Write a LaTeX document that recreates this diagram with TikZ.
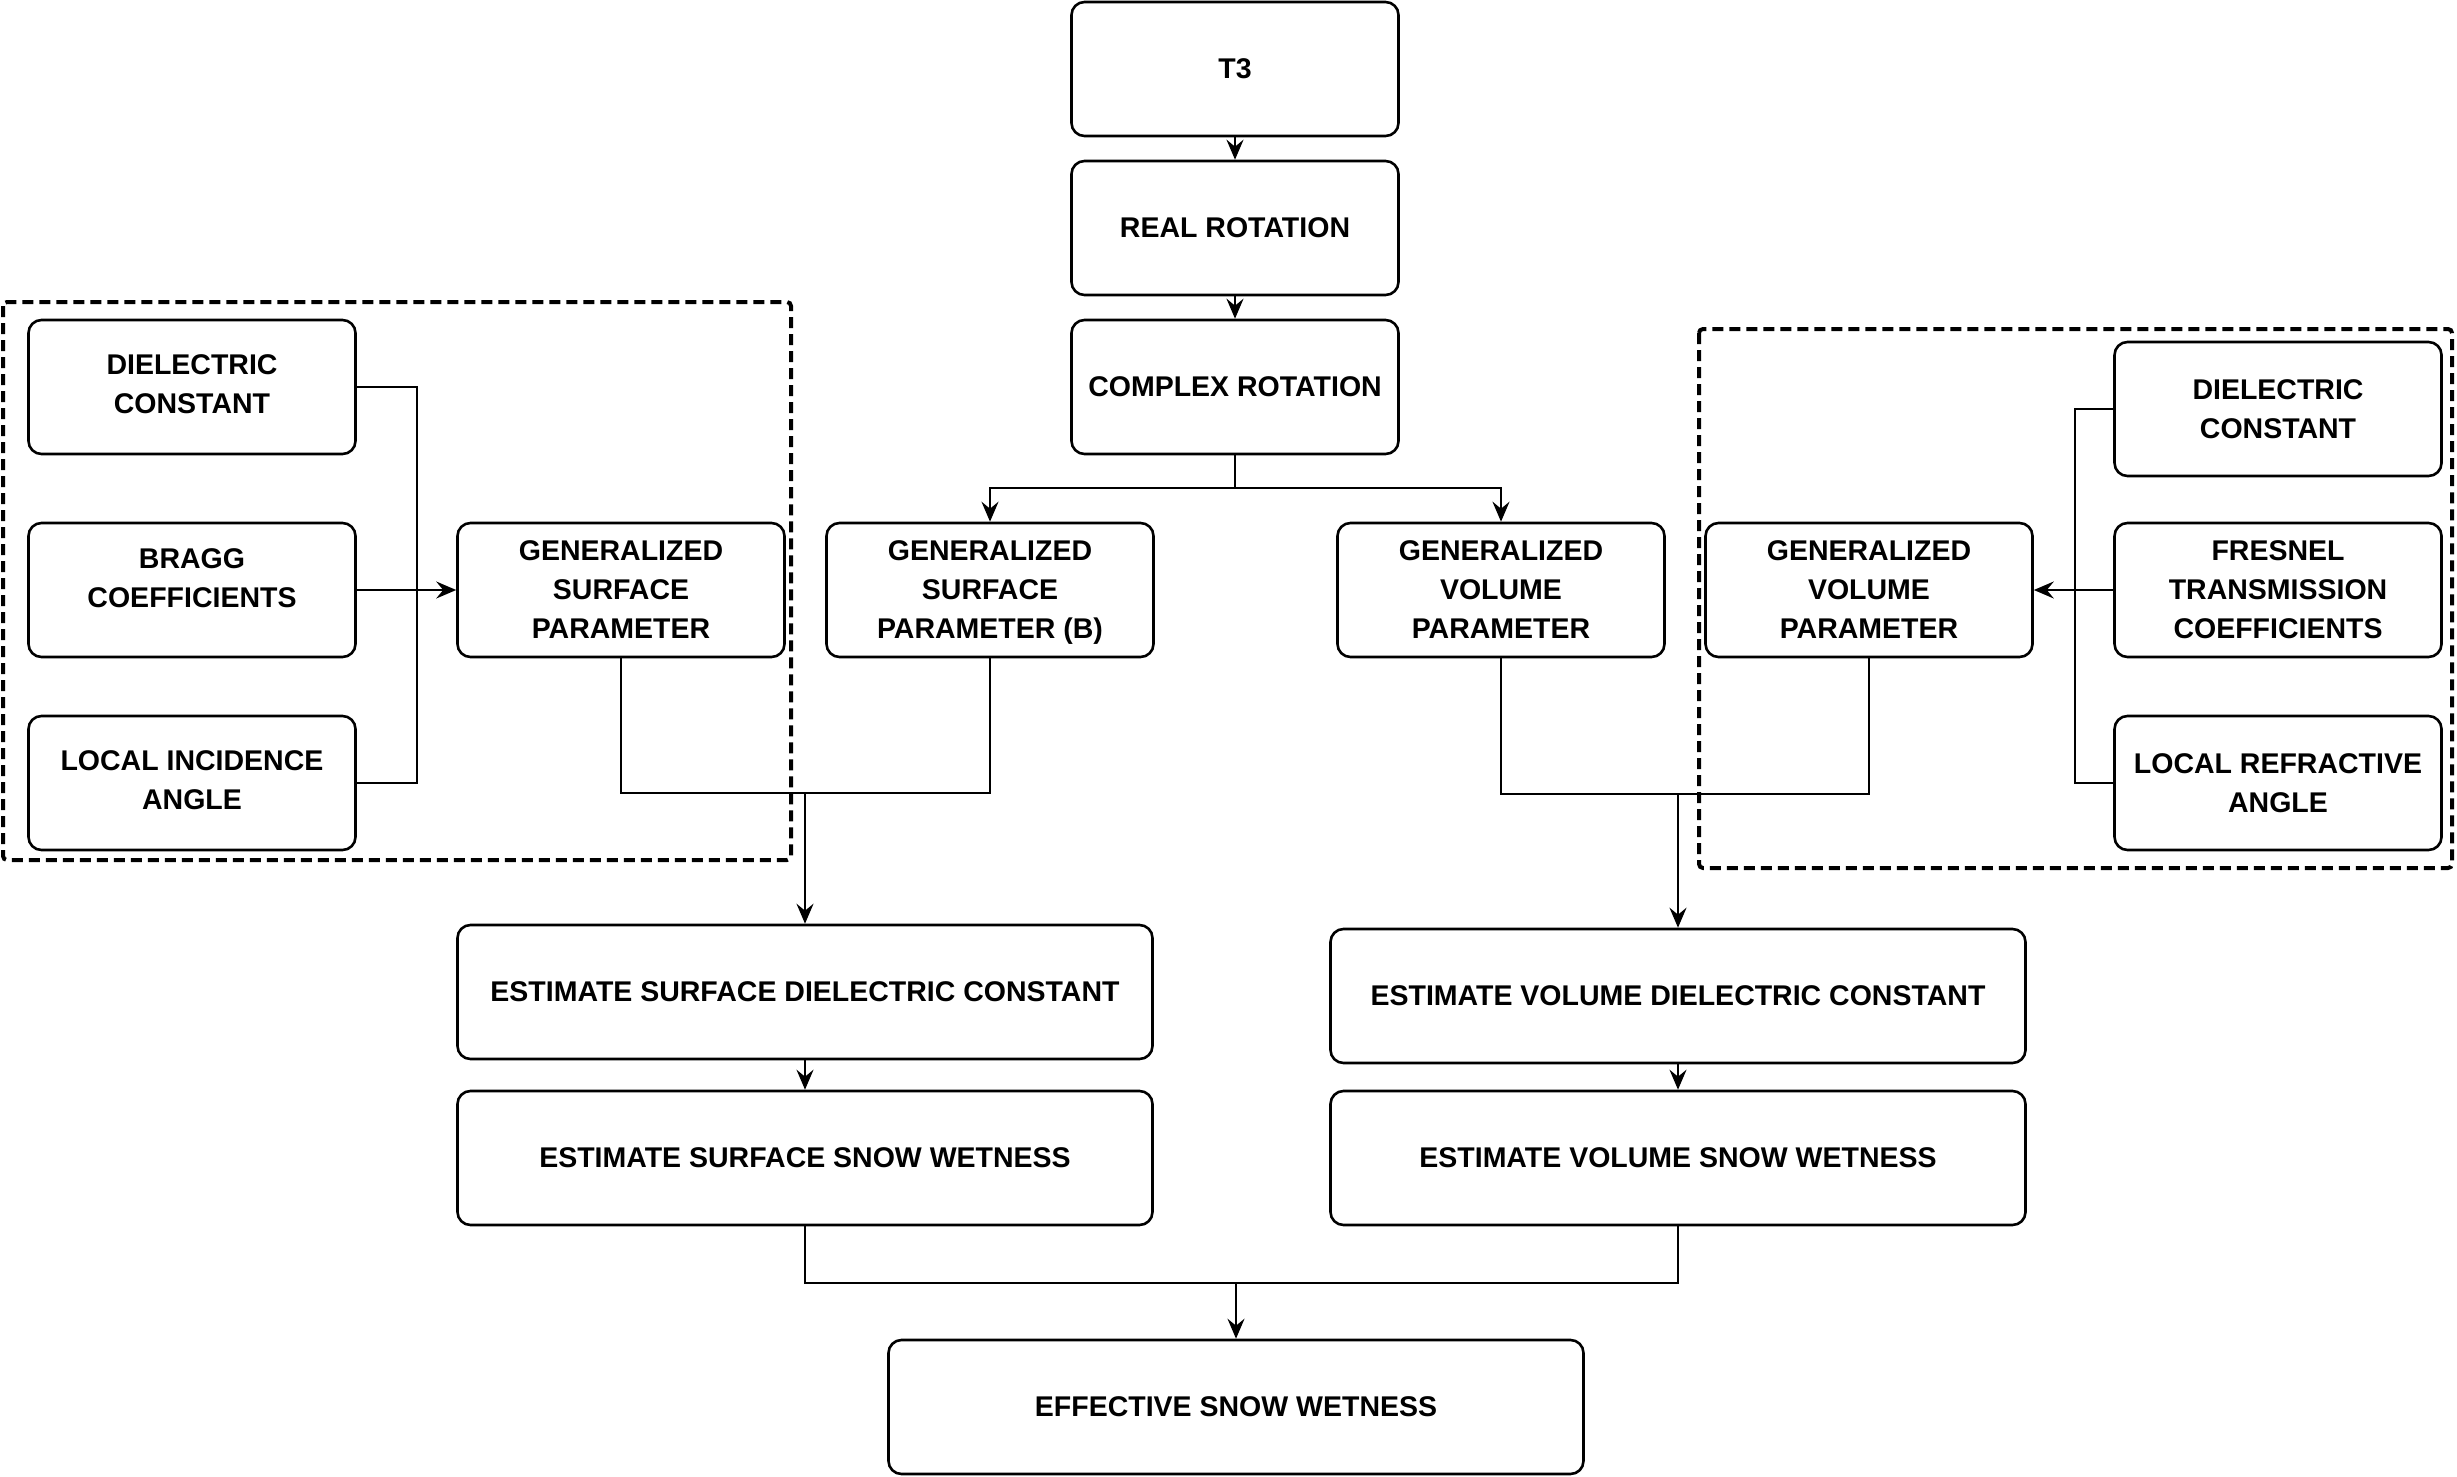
\documentclass[tikz,border=0pt]{standalone}
\usepackage{fontspec}
\setmainfont{Liberation Sans}
\usetikzlibrary{arrows.meta,calc}
\begin{document}
\begin{tikzpicture}[x=1pt,y=-1pt,
 box/.style={draw, line width=2.6pt, rounded corners=13pt, align=center, font=\bfseries\fontsize{28.5}{39}\selectfont, inner sep=0pt, minimum height=134pt},
 sbox/.style={box, minimum width=327pt},
 wbox/.style={box, minimum width=695pt},
 conn/.style={line width=2.2pt},
 arr/.style={conn, -{Stealth[length=20pt,width=17pt,inset=7pt]}},
 grp/.style={draw, line width=4pt, dash pattern=on 11pt off 6pt, rounded corners=4pt}]
\useasboundingbox (0,0) rectangle (2457,1477);
% groups
\draw[grp] (3,302) rectangle (791,860);
\draw[grp] (1699,329) rectangle (2452,868);
% top chain
\node[sbox] (t3) at (1235,69) {T3};
\node[sbox] (rr) at (1235,228) {REAL ROTATION};
\node[sbox] (cr) at (1235,387) {COMPLEX ROTATION};
% left inputs
\node[sbox] (dcL) at (192,387) {DIELECTRIC\\CONSTANT\\[-33pt]\mbox{}};
\node[sbox] (brL) at (192,590) {BRAGG\\COEFFICIENTS\\[-15pt]\mbox{}};
\node[sbox] (liaL) at (192,783) {LOCAL INCIDENCE\\ANGLE\\[-33pt]\mbox{}};
\node[sbox] (gspL) at (621,590) {GENERALIZED\\SURFACE\\PARAMETER};
\node[sbox] (gspB) at (990,590) {GENERALIZED\\SURFACE\\PARAMETER \smash{(B)}};
\node[sbox] (gvpC) at (1501,590) {GENERALIZED\\VOLUME\\PARAMETER};
\node[sbox] (gvpR) at (1869,590) {GENERALIZED\\VOLUME\\PARAMETER};
% right inputs
\node[sbox] (dcR) at (2278,409) {DIELECTRIC\\CONSTANT};
\node[sbox] (frR) at (2278,590) {FRESNEL\\TRANSMISSION\\COEFFICIENTS};
\node[sbox] (lraR) at (2278,783) {LOCAL REFRACTIVE\\ANGLE};
% estimates
\node[wbox] (esdc) at (805,992) {ESTIMATE SURFACE DIELECTRIC CONSTANT};
\node[wbox] (essw) at (805,1158) {ESTIMATE SURFACE SNOW WETNESS};
\node[wbox] (evdc) at (1678,996) {ESTIMATE VOLUME DIELECTRIC CONSTANT};
\node[wbox] (evsw) at (1678,1158) {ESTIMATE VOLUME SNOW WETNESS};
\node[wbox] (esw) at (1236,1407) {EFFECTIVE SNOW WETNESS};
% connectors
\draw[arr] (t3) -- (rr);
\draw[arr] (rr) -- (cr);
\coordinate (split) at (1235,488);
\draw[conn] (cr.south) -- (split);
\draw[arr] (split) -| (gspB.north);
\draw[arr] (split) -| (gvpC.north);
\coordinate (colL) at (417,590);
\draw[conn] (dcL.east) -| (colL) |- (liaL.east);
\draw[arr] (brL) -- (gspL);
\coordinate (colR) at (2075,590);
\draw[conn] (dcR.west) -| (colR) |- (lraR.west);
\draw[arr] (frR) -- (gvpR);
\coordinate (mS) at (805,793);
\draw[conn] (gspL.south) |- (mS) -| (gspB.south);
\draw[arr] (mS) -- (esdc.north);
\coordinate (mV) at (1678,794);
\draw[conn] (gvpC.south) |- (mV) -| (gvpR.south);
\draw[arr] (mV) -- (evdc.north);
\draw[arr] (esdc) -- (essw);
\draw[arr] (evdc) -- (evsw);
\coordinate (mB) at (1236,1283);
\draw[conn] (essw.south) |- (mB) -| (evsw.south);
\draw[arr] (mB) -- (esw.north);
\end{tikzpicture}
\end{document}
